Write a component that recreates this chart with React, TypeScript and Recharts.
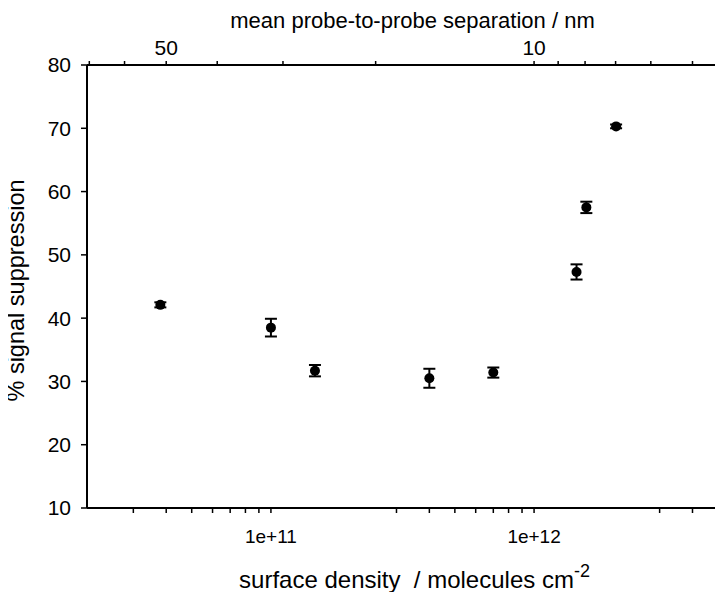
import React from 'react';
import {
    ScatterChart, Scatter, XAxis, YAxis, ErrorBar, ReferenceLine,
} from 'recharts';

// surface density (molecules cm^-2) vs % signal suppression
const density = [3.8e10, 1.0e11, 1.47e11, 4.0e11, 7.0e11, 1.45e12, 1.58e12, 2.05e12];
const suppression = [42.1, 38.5, 31.7, 30.5, 31.4, 47.3, 57.5, 70.3];
const suppressionErr = [0.4, 1.4, 0.9, 1.5, 0.8, 1.2, 0.9, 0.3];

// bottom axis ticks (2e11 and 2e12 have no tick in the original)
const densityTicks = [3e10, 4e10, 5e10, 6e10, 7e10, 8e10, 9e10, 1e11,
    3e11, 4e11, 5e11, 6e11, 7e11, 8e11, 9e11, 1e12, 3e12, 4e12];
const densityLabels: Record<number, string> = { 1e11: '1e+11', 1e12: '1e+12' };

// top axis: mean probe-to-probe separation in nm, d = 1/sqrt(n)
const separationTicks = [70, 60, 50, 40, 30, 20, 10, 9, 8, 7, 6, 5];
const separationLabels = [50, 10];

const yTicks = [10, 20, 30, 40, 50, 60, 70, 80];

const FONT = '"Liberation Sans", Arial, sans-serif';
const BLACK = '#000';

const data = density.map((d, i) => ({ x: d, y: suppression[i], err: suppressionErr[i] }));
const sepToDensity = (nm: number) => 1e14 / (nm * nm);
const topTicks = separationTicks.map(sepToDensity);

function Dot(props: any) {
    const { cx, cy } = props;
    if (cx == null || cy == null) return null;
    return <circle cx={cx} cy={cy} r={5} fill={BLACK} />;
}

function BottomTitle({ viewBox }: any) {
    const cx = viewBox.x + viewBox.width / 2 + 12;
    return (
        <text x={cx} y={588} textAnchor="middle" fontFamily={FONT} fontSize={24} fill={BLACK}
            style={{ whiteSpace: 'pre' }}>
            surface density  / molecules cm<tspan dy={-11} fontSize={18}>-2</tspan>
        </text>
    );
}

function TopTitle({ viewBox }: any) {
    const cx = viewBox.x + viewBox.width / 2 + 10;
    return (
        <text x={cx} y={28} textAnchor="middle" fontFamily={FONT} fontSize={22} fill={BLACK}>
            mean probe-to-probe separation / nm
        </text>
    );
}

function LeftTitle({ viewBox }: any) {
    const cy = viewBox.y + viewBox.height / 2 + 4;
    return (
        <text x={24} y={cy} textAnchor="middle" fontFamily={FONT} fontSize={23.5}
            fill={BLACK} transform={`rotate(-90, 24, ${cy})`}>
            % signal suppression
        </text>
    );
}

export default function App() {
    const xTick = { fontSize: 19, fill: BLACK, fontFamily: FONT };
    const topTick = { fontSize: 21, fill: BLACK, fontFamily: FONT };
    const yTick = { fontSize: 21, fill: BLACK, fontFamily: FONT };
    const axisLine = { stroke: BLACK, strokeWidth: 2 };
    const tickLine = { stroke: BLACK, strokeWidth: 1.5 };
    return (
        <div style={{ width: 723, height: 600, margin: -8, background: '#fff' }}>
            <ScatterChart width={723} height={600} margin={{ top: 15, right: 5, bottom: 12, left: 27 }}>
                <XAxis xAxisId="bottom" dataKey="x" type="number" scale="log" domain={[2e10, 5e12]}
                    allowDataOverflow ticks={densityTicks} interval={0}
                    tickFormatter={(v) => densityLabels[v] ?? ''}
                    tick={xTick} tickSize={5} tickMargin={17} height={80}
                    axisLine={axisLine} tickLine={tickLine}
                    label={<BottomTitle />} />
                <XAxis xAxisId="top" dataKey="x" orientation="top" type="number" scale="log" domain={[2e10, 5e12]}
                    allowDataOverflow ticks={topTicks} interval={0}
                    tickFormatter={(v) => {
                        const nm = Math.round(1e7 / Math.sqrt(v));
                        return separationLabels.includes(nm) ? String(nm) : '';
                    }}
                    tick={topTick} tickSize={4} tickMargin={6} height={50}
                    axisLine={axisLine} tickLine={tickLine}
                    label={<TopTitle />} />
                <YAxis yAxisId="left" dataKey="y" type="number" domain={[10, 80]} ticks={yTicks}
                    interval={0} tick={yTick} tickSize={6} tickMargin={10} width={60}
                    axisLine={axisLine} tickLine={tickLine}
                    label={<LeftTitle />} />
                <ReferenceLine xAxisId="bottom" yAxisId="left" x={5e12} stroke={BLACK} strokeWidth={2} />
                {/* invisible copy so the top axis is drawn */}
                <Scatter xAxisId="top" yAxisId="left" data={data} shape={() => null}
                    isAnimationActive={false} />
                <Scatter xAxisId="bottom" yAxisId="left" data={data} fill={BLACK} shape={<Dot />}
                    isAnimationActive={false}>
                    <ErrorBar dataKey="err" direction="y" width={6} stroke={BLACK} strokeWidth={2} />
                </Scatter>
            </ScatterChart>
        </div>
    );
}
